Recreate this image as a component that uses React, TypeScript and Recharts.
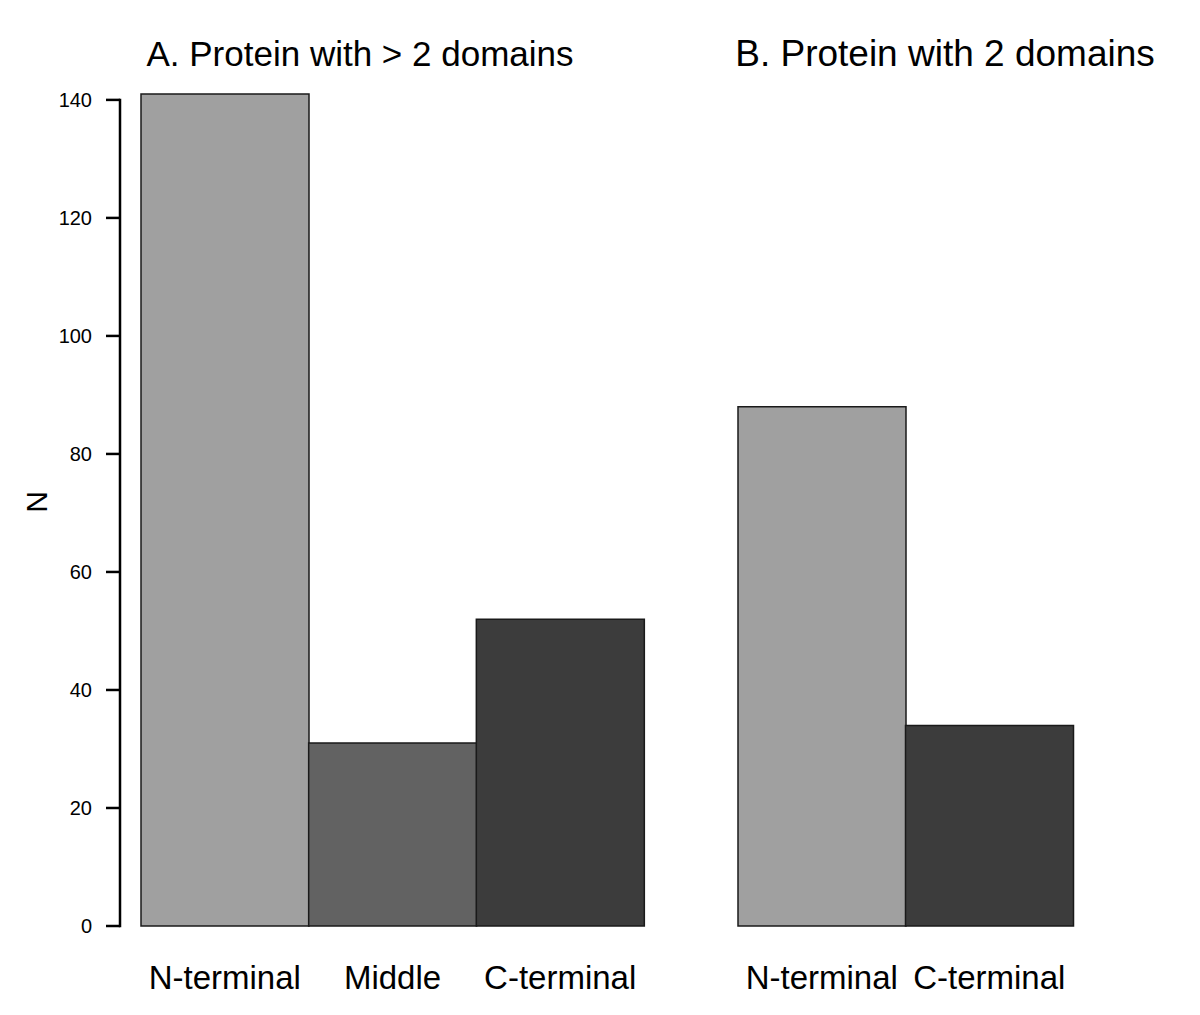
import React from 'react';
import { BarChart, Bar, XAxis, YAxis, Cell } from 'recharts';

const categoriesA = ['N-terminal', 'Middle', 'C-terminal'];
const valuesA = [141, 31, 52];
const categoriesB = ['N-terminal', 'C-terminal'];
const valuesB = [88, 34];
const yTicks = [0, 20, 40, 60, 80, 100, 120, 140];
const colorByCategory: Record<string, string> = {
  'N-terminal': '#a0a0a0',
  'Middle': '#626262',
  'C-terminal': '#3c3c3c',
};

const dataA = categoriesA.map((c, i) => ({ name: c, value: valuesA[i] }));
const dataB = categoriesB.map((c, i) => ({ name: c, value: valuesB[i] }));

const FONT = '"Liberation Sans", Arial, Helvetica, sans-serif';
const CHART_H = 1015;
const MARGIN_TOP = 94;
const XAXIS_H = 89;
const Y_MAX = 141;
const PLOT_H = CHART_H - MARGIN_TOP - XAXIS_H;
const PPU = PLOT_H / Y_MAX;

const XTick = (props: any) => {
  const { x, y, payload } = props;
  return (
    <text x={x} y={y + 63} textAnchor="middle" fontFamily={FONT} fontSize={33} fill="#000">
      {payload.value}
    </text>
  );
};

const YTick = (props: any) => {
  const { x, y, payload } = props;
  return (
    <g>
      <text x={x} y={y} dy="0.36em" textAnchor="end" fontFamily={FONT} fontSize={20} fill="#000">
        {payload.value}
      </text>
      {payload.value === 0 && (
        <line x1={x + 28} x2={x + 28} y1={y + 1.25} y2={y - 140 * PPU - 1.25} stroke="#000" strokeWidth={2.5} />
      )}
    </g>
  );
};

export default function App() {
  return (
    <div style={{ position: 'absolute', left: 0, top: 0, width: 1200, height: 1015, background: '#fff' }}>
      <div style={{ position: 'absolute', left: 0, top: 0 }}>
        <BarChart
          width={660}
          height={CHART_H}
          data={dataA}
          margin={{ top: MARGIN_TOP, right: 16, bottom: 0, left: 20 }}
          barCategoryGap={0}
          barGap={0}
        >
          <XAxis
            dataKey="name"
            axisLine={false}
            tickLine={false}
            tickSize={0}
            tickMargin={0}
            height={XAXIS_H}
            padding={{ left: 21, right: 0 }}
            tick={<XTick />}
            interval={0}
          />
          <YAxis
            width={100}
            domain={[0, Y_MAX]}
            ticks={yTicks}
            interval={0}
            axisLine={false}
            tickLine={{ stroke: '#000', strokeWidth: 2.5 }}
            tickSize={14}
            tickMargin={14}
            tick={<YTick />}
          />
          <Bar dataKey="value" isAnimationActive={false} stroke="#1a1a1a" strokeWidth={1.5}>
            {dataA.map((d) => (
              <Cell key={d.name} fill={colorByCategory[d.name]} />
            ))}
          </Bar>
        </BarChart>
      </div>
      <div style={{ position: 'absolute', left: 660, top: 0 }}>
        <BarChart
          width={540}
          height={CHART_H}
          data={dataB}
          margin={{ top: MARGIN_TOP, right: 127, bottom: 0, left: 78 }}
          barCategoryGap={0}
          barGap={0}
        >
          <XAxis
            dataKey="name"
            axisLine={false}
            tickLine={false}
            tickSize={0}
            tickMargin={0}
            height={XAXIS_H}
            tick={<XTick />}
            interval={0}
          />
          <YAxis hide domain={[0, Y_MAX]} ticks={yTicks} />
          <Bar dataKey="value" isAnimationActive={false} stroke="#1a1a1a" strokeWidth={1.5}>
            {dataB.map((d) => (
              <Cell key={d.name} fill={colorByCategory[d.name]} />
            ))}
          </Bar>
        </BarChart>
      </div>
      <svg width={1200} height={1015} style={{ position: 'absolute', left: 0, top: 0, pointerEvents: 'none' }}>
        <text x={360} y={66} textAnchor="middle" fontFamily={FONT} fontSize={35} fill="#000">
          A. Protein with &gt; 2 domains
        </text>
        <text x={945} y={66} textAnchor="middle" fontFamily={FONT} fontSize={37} fill="#000">
          B. Protein with 2 domains
        </text>
        <text x={36} y={502} textAnchor="middle" dominantBaseline="central" fontFamily={FONT} fontSize={30} fill="#000" transform="rotate(-90 36 502)">
          N
        </text>
      </svg>
    </div>
  );
}
